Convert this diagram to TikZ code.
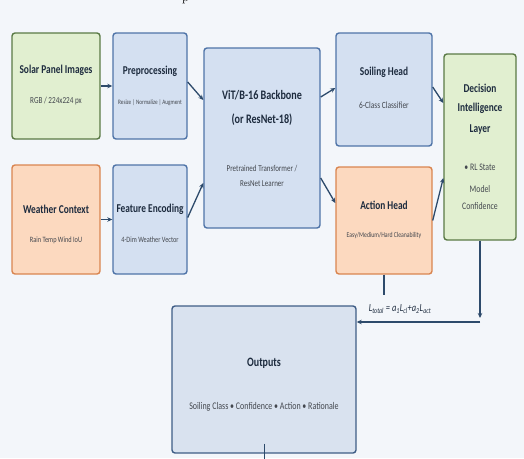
\documentclass[tikz,border=0pt]{standalone}
\usepackage{fontspec}
\setmainfont{Carlito}[FakeStretch=0.78]
\newfontfamily\capfont{Latin Modern Roman}
\usetikzlibrary{arrows.meta}
\definecolor{bgcol}{HTML}{F3F6FA}
\definecolor{greenfill}{HTML}{E1EFD0}
\definecolor{greenline}{HTML}{5A7A45}
\definecolor{bluefill}{HTML}{D4E0F1}
\definecolor{blueline}{HTML}{4F74A8}
\definecolor{orangefill}{HTML}{FCD9BF}
\definecolor{orangeline}{HTML}{D98550}
\definecolor{outfill}{HTML}{D9E2EF}
\definecolor{arrowcol}{HTML}{2D4A6B}
\definecolor{titlecol}{HTML}{1D2B3E}
\definecolor{subcol}{HTML}{43474E}
\newcommand{\fs}[1]{\fontsize{#1}{#1}\selectfont}
\begin{document}
\begin{tikzpicture}[x=1pt,y=-1pt,
    box/.style={draw, rounded corners=3pt, line width=1.4pt, inner sep=0pt},
    greenbox/.style={box, fill=greenfill, draw=greenline},
    bluebox/.style={box, fill=bluefill, draw=blueline},
    orangebox/.style={box, fill=orangefill, draw=orangeline},
    title/.style={font=\bfseries\fs{12}, text=titlecol, inner sep=0pt},
    sub/.style={font=\fs{8.1}, text=subcol, inner sep=0pt},
    arr/.style={draw=arrowcol, line width=1.3pt, -{Stealth[length=5pt,width=4.5pt]}},
    link/.style={draw=arrowcol, line width=1.1pt}]
\fill[bgcol] (0,0) rectangle (524,458);
\useasboundingbox (0,0) rectangle (524,458);
\node[font=\capfont\fontsize{12}{14}\selectfont, anchor=base west, inner sep=0pt] (cap) at (182,1) {p};

\node[greenbox, minimum width=88pt, minimum height=106pt] (solar) at (56,86) {};
\node[bluebox, minimum width=74pt, minimum height=106pt] (prep) at (150,86) {};
\node[bluebox, minimum width=116pt, minimum height=180pt] (bb) at (262,138) {};
\node[bluebox, minimum width=96pt, minimum height=113pt] (soil) at (384,89.5) {};
\node[greenbox, minimum width=72pt, minimum height=186pt] (dec) at (480,147) {};
\node[orangebox, minimum width=88pt, minimum height=109pt] (wea) at (56,219.5) {};
\node[bluebox, minimum width=74pt, minimum height=109pt] (feat) at (150,219.5) {};
\node[orangebox, minimum width=96pt, minimum height=107pt] (act) at (384,220.5) {};
\node[box, fill=outfill, draw=blueline!80!black, minimum width=184pt, minimum height=147pt] (out) at (264,379.5) {};

\node[title] (solart) at (56,70) {Solar Panel Images};
\node[sub, font=\fs{9.2}] (solars) at (56,101) {RGB / 224x224 px};
\node[title] (prept) at (150,71) {Preprocessing};
\node[sub, font=\fs{6.7}] (preps) at (150,103) {Resize | Normalize | Augment};
\node[title, font=\bfseries\fs{13}] (bbt1) at (262,95) {ViT/B-16 Backbone};
\node[title, font=\bfseries\fs{13}] (bbt2) at (262,120) {(or ResNet-18)};
\node[sub, font=\fs{9}] (bbs1) at (262,169) {Pretrained Transformer /};
\node[sub, font=\fs{9}] (bbs2) at (262,184) {ResNet Learner};
\node[title] (soilt) at (384,72) {Soiling Head};
\node[sub, font=\fs{9.5}] (soils) at (384,105) {6-Class Classifier};
\node[title] (dect1) at (480,88) {Decision};
\node[title] (dect2) at (480,108) {Intelligence};
\node[title] (dect3) at (480,130) {Layer};
\node[sub, font=\fs{10}] (decs1) at (480,167) {• RL State};
\node[sub, font=\fs{10}] (decs2) at (480,189) {Model};
\node[sub, font=\fs{10}] (decs3) at (480,206) {Confidence};
\node[title] (weat) at (56,209) {Weather Context};
\node[sub] (weas) at (56,240) {Rain Temp Wind IoU};
\node[title] (featt) at (150,209) {Feature Encoding};
\node[sub] (feats) at (150,240) {4-Dim Weather Vector};
\node[title] (actt) at (384,205) {Action Head};
\node[sub, font=\fs{7.4}] (acts) at (384,236) {Easy/Medium/Hard Cleanability};
\node[title, font=\bfseries\fs{12.8}] (outt) at (264,363) {Outputs};
\node[sub, font=\fs{10.2}] (outs) at (264,407) {Soiling Class • Confidence • Action • Rationale};
\node[font=\itshape\fs{10.8}, text=titlecol, inner sep=0pt] (loss) at (400,309)
  {L\textsubscript{total} = a\textsubscript{1}L\textsubscript{cl}+a\textsubscript{2}L\textsubscript{act}};

\coordinate (bend) at (480,322);
\coordinate (actend) at (384,295);
\coordinate (outend) at (264,470);

\draw[arr] (solar.east) -- (prep.west);
\draw[arr] (wea.east) -- (feat.west);
\draw[arr] ([yshift=4pt]prep.east) -- ([yshift=38pt]bb.west);
\draw[arr] ([yshift=2pt]feat.east) -- ([yshift=-45pt]bb.west);
\draw[arr] ([yshift=41pt]bb.east) -- ([yshift=1.5pt]soil.west);
\draw[arr] ([yshift=-40pt]bb.east) -- ([yshift=17.5pt]act.west);
\draw[arr] ([yshift=2.5pt]soil.east) -- ([yshift=44pt]dec.west);
\draw[arr] (act.east) -- ([yshift=-31pt]dec.west);
\draw[arr] (dec.south) -- ([yshift=4pt]bend);
\draw[arr] (bend) -- (bend -| out.east);
\draw[link] (act.south) -- (actend);
\draw[link, line width=0.8pt] ([yshift=10pt]out.south) -- (outend);
\end{tikzpicture}
\end{document}
